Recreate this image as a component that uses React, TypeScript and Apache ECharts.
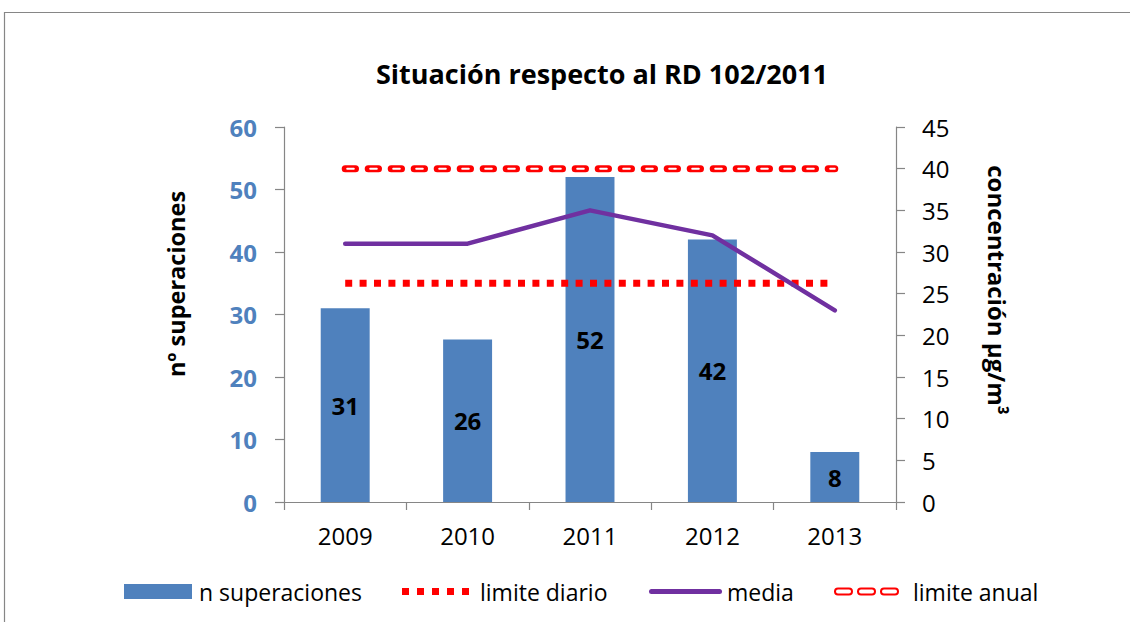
import React, { useEffect, useRef } from "react";
import * as echarts from "echarts";

const years = ["2009", "2010", "2011", "2012", "2013"];
const superaciones = [31, 26, 52, 42, 8];
const media = [31, 31, 35, 32, 23];
const limiteDiario = [35, 35, 35, 35, 35];
const limiteAnual = [40, 40, 40, 40, 40];
const leftTicks = { min: 0, max: 60, interval: 10 };
const rightTicks = { min: 0, max: 45, interval: 5 };

const FONT = "Open Sans";
const BLUE = "#4F81BD";
const GREY = "#868686";

function roundRect(x: number, w: number, h: number) {
  const r = h / 2;
  return `M${x + r},0 L${x + w - r},0 A${r},${r} 0 0 1 ${x + w - r},${h} L${x + r},${h} A${r},${r} 0 0 1 ${x + r},0 Z`;
}

export default function App() {
  const ref = useRef<HTMLDivElement>(null);
  useEffect(() => {
    document.body.style.margin = "0";
    if (!ref.current) return;
    const chart = echarts.init(ref.current, undefined, { renderer: "svg" });

    const diarioIcon =
      "path://" + [0, 15, 30, 45, 60].map((x) => `M${x},0 L${x + 7},0 L${x + 7},7 L${x},7 Z`).join(" ");
    const anualIcon = "path://" + [0, 23, 46].map((x) => roundRect(x, 17, 6)).join(" ");
    const mediaIcon = "path://" + roundRect(0, 73, 5);

    const legendBase = {
      top: 580,
      padding: 0,
      itemGap: 0,
      selectedMode: false,
      textStyle: { fontFamily: FONT, fontSize: 23, color: "#000" },
    };

    chart.setOption({
      animation: false,
      graphic: [
        {
          type: "rect",
          shape: { x: 4.5, y: 12.5, width: 1200, height: 700 },
          style: { fill: "none", stroke: GREY, lineWidth: 1.2 },
          silent: true,
        },
        {
          type: "text",
          x: 602,
          y: 73,
          style: {
            text: "Situación respecto al RD 102/2011",
            fontFamily: FONT,
            fontSize: 27,
            fontWeight: "bold",
            fill: "#000",
            align: "center",
            verticalAlign: "middle",
          },
        },
        {
          type: "text",
          x: 176,
          y: 284,
          rotation: Math.PI / 2,
          style: {
            text: "nº superaciones",
            fontFamily: FONT,
            fontSize: 23.5,
            fontWeight: "bold",
            fill: "#000",
            align: "center",
            verticalAlign: "middle",
          },
        },
        {
          type: "text",
          x: 997,
          y: 290,
          rotation: -Math.PI / 2,
          style: {
            text: "concentración µg/m³",
            fontFamily: FONT,
            fontSize: 24,
            fontWeight: "bold",
            fill: "#000",
            align: "center",
            verticalAlign: "middle",
          },
        },
      ],
      legend: [
        {
          ...legendBase,
          left: 124,
          itemWidth: 68,
          itemHeight: 15,
          data: [{ name: "n superaciones", icon: "rect" }],
          textStyle: { ...legendBase.textStyle, padding: [0, 0, 0, 2] },
        },
        {
          ...legendBase,
          left: 402,
          itemWidth: 67,
          itemHeight: 7,
          data: [{ name: "limite diario", icon: diarioIcon, itemStyle: { color: "#FF0000" } }],
          textStyle: { ...legendBase.textStyle, padding: [0, 0, 0, 6] },
        },
        {
          ...legendBase,
          left: 649,
          itemWidth: 73,
          itemHeight: 5,
          data: [{ name: "media", icon: mediaIcon, itemStyle: { color: "#7030A0" } }],
        },
        {
          ...legendBase,
          left: 834,
          itemWidth: 63,
          itemHeight: 6,
          data: [
            {
              name: "limite anual",
              icon: anualIcon,
              itemStyle: { color: "#FFFFFF", borderColor: "#FF0000", borderWidth: 2 },
            },
          ],
          textStyle: { ...legendBase.textStyle, padding: [0, 0, 0, 10] },
        },
      ],
      grid: { left: 284, right: 234, top: 127, bottom: 120, containLabel: false },
      xAxis: {
        type: "category",
        data: years,
        boundaryGap: true,
        axisLine: { show: true, lineStyle: { color: GREY, width: 1.2 } },
        axisTick: { show: true, length: 8, lineStyle: { color: GREY, width: 1.2 } },
        axisLabel: { fontFamily: FONT, fontSize: 24, color: "#000", margin: 21 },
        splitLine: { show: false },
      },
      yAxis: [
        {
          type: "value",
          ...leftTicks,
          position: "left",
          axisLine: { show: true, lineStyle: { color: GREY, width: 1.2 } },
          axisTick: { show: true, length: 9, lineStyle: { color: GREY, width: 1.2 } },
          axisLabel: { fontFamily: FONT, fontSize: 24, fontWeight: "bold", color: BLUE, margin: 27 },
          splitLine: { show: false },
        },
        {
          type: "value",
          ...rightTicks,
          position: "right",
          axisLine: { show: true, lineStyle: { color: GREY, width: 1.2 } },
          axisTick: { show: true, length: 9, lineStyle: { color: GREY, width: 1.2 } },
          axisLabel: { fontFamily: FONT, fontSize: 24, color: "#000", margin: 26 },
          splitLine: { show: false },
        },
      ],
      series: [
        {
          name: "n superaciones",
          type: "bar",
          data: superaciones,
          yAxisIndex: 0,
          barWidth: "40%",
          itemStyle: { color: BLUE },
          label: {
            show: true,
            position: "inside",
            fontFamily: FONT,
            fontSize: 24,
            fontWeight: "bold",
            color: "#000",
          },
        },
        {
          name: "limite diario",
          type: "line",
          data: limiteDiario,
          yAxisIndex: 0,
          symbol: "none",
          itemStyle: { color: "#FF0000" },
          lineStyle: { color: "#FF0000", width: 7, type: [7, 7.4], cap: "butt" },
        },
        {
          name: "media",
          type: "line",
          data: media,
          yAxisIndex: 1,
          symbol: "none",
          itemStyle: { color: "#7030A0" },
          lineStyle: { color: "#7030A0", width: 4.5, cap: "round", join: "round" },
        },
        {
          name: "limite anual",
          type: "line",
          data: limiteAnual,
          yAxisIndex: 1,
          symbol: "none",
          itemStyle: { color: "#FF0000" },
          lineStyle: { color: "#FF0000", width: 7, type: [10.3, 12.7], cap: "round" },
        },
        {
          name: "limite anual (interior)",
          type: "line",
          data: limiteAnual,
          yAxisIndex: 1,
          symbol: "none",
          silent: true,
          itemStyle: { color: "#FFFFFF" },
          lineStyle: { color: "#FFFFFF", width: 2, type: [6.6, 16.4], dashOffset: 21.15, cap: "round" },
        },
      ],
    });
    return () => chart.dispose();
  }, []);
  return <div ref={ref} style={{ width: 1130, height: 622 }} />;
}
